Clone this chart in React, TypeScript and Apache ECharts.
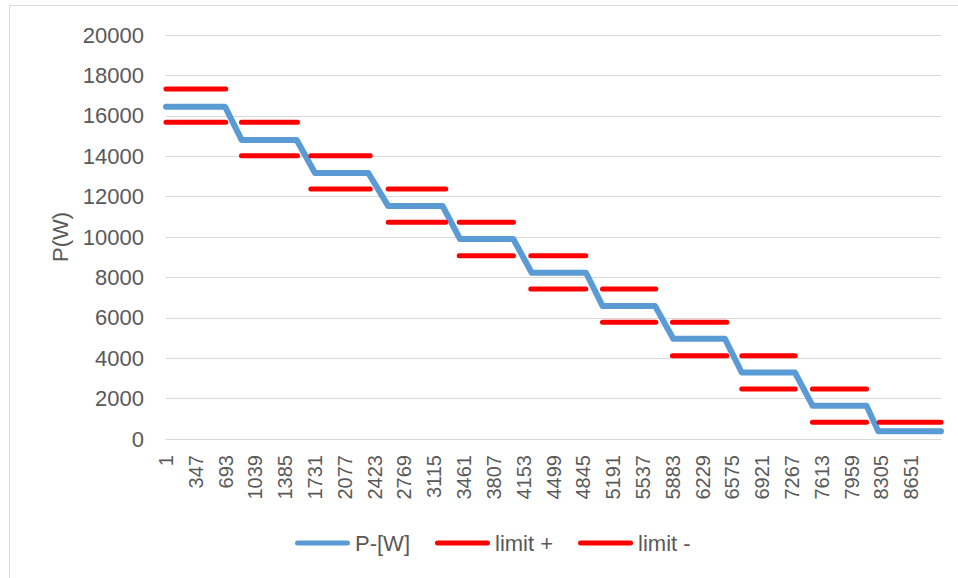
import React, { useEffect, useRef } from "react";
import * as echarts from "echarts";

// Measured power plateaus (W) and their sample ranges
const pLevels = [16450, 14800, 13170, 11530, 9900, 8230, 6580, 4960, 3290, 1640, 380];
const plateauStart = [0, 879, 1729, 2580, 3412, 4244, 5068, 5888, 6682, 7506, 8267];
const plateauEnd = [685, 1517, 2348, 3211, 4031, 4875, 5677, 6488, 7300, 8132, 8995];

// Limit bands (W) and their sample ranges
const limitPlus = [17325, 15675, 14025, 12375, 10725, 9075, 7425, 5775, 4125, 2475, 825];
const limitMinus = [15675, 14025, 12375, 10725, 9075, 7425, 5775, 4125, 2475, 825, -825];
const limitStart = [0, 876, 1681, 2579, 3403, 4234, 5066, 5878, 6683, 7503, 8277];
const limitEnd = [694, 1526, 2370, 3247, 4033, 4872, 5685, 6509, 7303, 8131, 8995];

// Axis
const lastSample = 8995;
const labelStep = 346;
const lastLabel = 8650;
const yTicks = { min: 0, max: 20000, interval: 2000 };

const seriesNames = ["P-[W]", "limit +", "limit -"];

const FONT = "'Liberation Sans', Arial, sans-serif";
const TEXT = "#595959";
const GRID = "#d9d9d9";

function segments(values: number[]) {
  const out: any[] = [];
  limitStart.forEach((s, k) => {
    out.push([s, values[k]]);
    out.push([limitEnd[k], values[k]]);
    out.push([limitEnd[k], "-"]);
  });
  return out;
}

export default function App() {
  const ref = useRef<HTMLDivElement>(null);
  useEffect(() => {
    if (!ref.current) return;
    const chart = echarts.init(ref.current, undefined, { renderer: "svg" });
    const pData: any[] = [];
    plateauStart.forEach((s, k) => {
      pData.push([s, pLevels[k]]);
      pData.push([plateauEnd[k], pLevels[k]]);
    });
    const pill = "path://M2.5,0 H52.5 A2.5,2.5 0 0 1 52.5,5 H2.5 A2.5,2.5 0 0 1 2.5,0 Z";
    chart.setOption({
      animation: false,
      backgroundColor: "#ffffff",
      textStyle: { fontFamily: FONT },
      graphic: [
        {
          type: "rect",
          shape: { x: 9.5, y: 5.5, width: 1000, height: 1000 },
          style: { fill: "none", stroke: GRID, lineWidth: 1 },
          silent: true,
          z: -1,
        },
      ],
      grid: { left: 166, top: 35, width: 775, height: 404, containLabel: false },
      legend: {
        data: seriesNames,
        left: 295,
        top: 532,
        padding: 0,
        itemGap: 25,
        itemWidth: 55,
        itemHeight: 5,
        icon: pill,
        textStyle: { fontSize: 22, color: TEXT, fontFamily: FONT },
      },
      xAxis: {
        type: "value",
        min: 0,
        max: lastSample,
        interval: labelStep,
        axisLine: { show: true, lineStyle: { color: GRID, width: 1 } },
        axisTick: { show: false },
        splitLine: { show: false },
        axisLabel: {
          rotate: 90,
          fontSize: 20,
          color: TEXT,
          fontFamily: FONT,
          margin: 16,
          showMaxLabel: false,
          formatter: (v: number) =>
            v % labelStep === 0 && v <= lastLabel ? String(v + 1) : "",
        },
      },
      yAxis: {
        type: "value",
        min: yTicks.min,
        max: yTicks.max,
        interval: yTicks.interval,
        name: "P(W)",
        nameLocation: "middle",
        nameRotate: 90,
        nameGap: 90,
        nameTextStyle: { fontSize: 22, color: TEXT, fontFamily: FONT },
        axisLine: { show: false },
        axisTick: { show: false },
        splitLine: { show: true, lineStyle: { color: GRID, width: 1 } },
        axisLabel: {
          fontSize: 22,
          color: TEXT,
          fontFamily: FONT,
          margin: 22,
          formatter: (v: number) => String(v),
        },
      },
      series: [
        {
          name: seriesNames[0],
          type: "line",
          data: pData,
          symbol: "none",
          showSymbol: false,
          color: "#5B9BD5",
          lineStyle: { color: "#5B9BD5", width: 6, cap: "round", join: "round" },
        },
        {
          name: seriesNames[1],
          type: "line",
          data: segments(limitPlus),
          symbol: "none",
          showSymbol: false,
          color: "#FF0000",
          lineStyle: { color: "#FF0000", width: 5, cap: "round" },
        },
        {
          name: seriesNames[2],
          type: "line",
          data: segments(limitMinus),
          symbol: "none",
          showSymbol: false,
          color: "#FF0000",
          lineStyle: { color: "#FF0000", width: 5, cap: "round" },
        },
      ],
    });
    return () => chart.dispose();
  }, []);
  return (
    <div
      ref={ref}
      style={{ position: "absolute", left: 0, top: 0, width: 958, height: 578 }}
    />
  );
}
